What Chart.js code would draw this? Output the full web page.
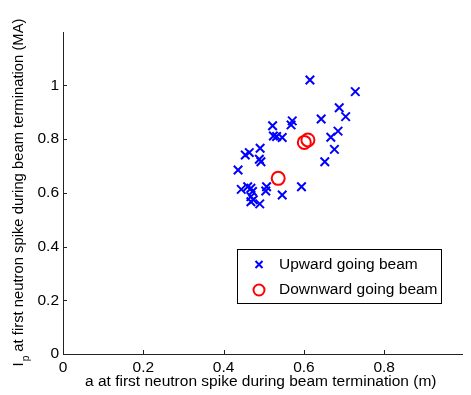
<!DOCTYPE html>
<html>
<head>
<meta charset="utf-8">
<script src="https://cdn.jsdelivr.net/npm/chart.js@4.4.1/dist/chart.umd.min.js"></script>
<style>
html,body{margin:0;padding:0;background:#fff;overflow:hidden;}
#wrap{width:471px;height:395px;}
</style>
</head>
<body>
<div id="wrap"><canvas id="c" width="471" height="395"></canvas></div>
<script>
// Data
const upX = [0.615,0.728,0.688,0.704,0.643,0.571,0.568,0.522,0.524,0.532,0.546,0.685,0.667,0.676,0.652,0.491,0.464,0.454,0.489,0.493,0.436,0.594,0.507,0.505,0.546,0.444,0.460,0.468,0.472,0.468,0.474,0.468,0.490];
const upY = [1.020,0.977,0.917,0.884,0.875,0.868,0.853,0.850,0.812,0.810,0.806,0.830,0.807,0.762,0.716,0.766,0.750,0.741,0.725,0.716,0.685,0.623,0.623,0.607,0.592,0.613,0.623,0.617,0.605,0.586,0.574,0.567,0.559];
const downX = [0.610,0.601,0.536];
const downY = [0.797,0.788,0.654];
const xTicks = [0,0.2,0.4,0.6,0.8];
const yTicks = [0,0.2,0.4,0.6,0.8,1];
const seriesNames = ['Upward going beam','Downward going beam'];
const xTitle = 'a at first neutron spike during beam termination (m)';
const yTitleMain = 'I';
const yTitleSub = 'p';
const yTitleRest = ' at first neutron spike during beam termination (MA)';

const FONT = '"Liberation Sans", Arial, sans-serif';
const FS = 15.5;
const FSY = 14.8;
const BLUE = '#0000ff', RED = '#ff0000';

const toPts = (xs, ys) => xs.map((x, i) => ({x: x, y: ys[i]}));

const decor = {
  id: 'decor',
  afterDraw(chart) {
    const ctx = chart.ctx, a = chart.chartArea;
    const xs = chart.scales.x, ys = chart.scales.y;
    ctx.save();
    // inward ticks
    ctx.strokeStyle = '#222'; ctx.lineWidth = 1;
    ctx.beginPath();
    xTicks.forEach(v => { const p = Math.round(xs.getPixelForValue(v)) + 0.5; ctx.moveTo(p, a.bottom); ctx.lineTo(p, a.bottom - 4); });
    yTicks.forEach(v => { const p = Math.round(ys.getPixelForValue(v)) + 0.5; ctx.moveTo(a.left, p); ctx.lineTo(a.left + 4, p); });
    ctx.stroke();
    // x title
    ctx.fillStyle = '#000';
    ctx.font = FS + 'px ' + FONT;
    ctx.textAlign = 'center'; ctx.textBaseline = 'middle';
    ctx.fillText(xTitle, (a.left + a.right) / 2 - 2, 382);
    // y title with subscript
    ctx.save();
    ctx.translate(19, (a.top + a.bottom) / 2);
    ctx.rotate(-Math.PI / 2);
    ctx.textAlign = 'left'; ctx.textBaseline = 'middle';
    ctx.font = FSY + 'px ' + FONT;
    const w1 = ctx.measureText(yTitleMain).width;
    const w3 = ctx.measureText(yTitleRest).width;
    ctx.font = '10px ' + FONT;
    const w2 = ctx.measureText(yTitleSub).width;
    let x0 = -(w1 + w2 + w3) / 2;
    ctx.font = FSY + 'px ' + FONT;
    ctx.fillText(yTitleMain, x0, 0);
    ctx.font = '10px ' + FONT;
    ctx.fillText(yTitleSub, x0 + w1 + 1, 7);
    ctx.font = FSY + 'px ' + FONT;
    ctx.fillText(yTitleRest, x0 + w1 + w2 + 1, 0);
    ctx.restore();
    // legend
    const lx = 237, ly = 249, lw = 204, lh = 54;
    ctx.fillStyle = '#fff';
    ctx.fillRect(lx, ly, lw, lh);
    ctx.strokeStyle = '#000'; ctx.lineWidth = 1;
    ctx.strokeRect(lx + 0.5, ly + 0.5, lw, lh);
    const mx = 259, my1 = 264.5, my2 = 290;
    ctx.strokeStyle = BLUE; ctx.lineWidth = 2;
    ctx.beginPath();
    ctx.moveTo(mx - 3.5, my1 - 3.5); ctx.lineTo(mx + 3.5, my1 + 3.5);
    ctx.moveTo(mx + 3.5, my1 - 3.5); ctx.lineTo(mx - 3.5, my1 + 3.5);
    ctx.stroke();
    ctx.strokeStyle = RED;
    ctx.beginPath(); ctx.arc(mx, my2, 5.5, 0, Math.PI * 2); ctx.stroke();
    ctx.fillStyle = '#000';
    ctx.font = FS + 'px ' + FONT;
    ctx.textAlign = 'left'; ctx.textBaseline = 'middle';
    ctx.fillText(seriesNames[0], 279, my1);
    ctx.fillText(seriesNames[1], 279, my2);
    ctx.restore();
  }
};

new Chart(document.getElementById('c'), {
  type: 'scatter',
  data: {
    datasets: [
      { label: seriesNames[0], data: toPts(upX, upY), pointStyle: 'crossRot', pointRadius: 6, pointHoverRadius: 6,
        borderColor: BLUE, backgroundColor: BLUE, pointBorderWidth: 2, borderWidth: 2 },
      { label: seriesNames[1], data: toPts(downX, downY), pointStyle: 'circle', pointRadius: 6.5, pointHoverRadius: 6.5,
        borderColor: RED, backgroundColor: 'rgba(0,0,0,0)', pointBorderWidth: 2, borderWidth: 2 }
    ]
  },
  options: {
    responsive: false,
    animation: false,
    events: [],
    layout: { padding: { top: 32, right: 0, left: 0, bottom: 0 } },
    plugins: { legend: { display: false }, tooltip: { enabled: false } },
    scales: {
      x: {
        type: 'linear', min: 0, max: 0.995,
        afterBuildTicks: s => { s.ticks = xTicks.map(v => ({value: v})); },
        afterFit: s => { s.height = 41; },
        grid: { display: true, drawOnChartArea: false, drawTicks: false, color: '#222' },
        border: { display: true, color: '#222', width: 1 },
        ticks: { padding: 4, color: '#000', font: { family: FONT, size: FS }, maxRotation: 0,
                 callback: v => String(v) }
      },
      y: {
        type: 'linear', min: 0, max: 1.199,
        afterBuildTicks: s => { s.ticks = yTicks.map(v => ({value: v})); },
        afterFit: s => { s.width = 63; },
        grid: { display: true, drawOnChartArea: false, drawTicks: false, color: '#222' },
        border: { display: true, color: '#222', width: 1 },
        ticks: { padding: 4, color: '#000', font: { family: FONT, size: FS },
                 callback: v => String(v) }
      }
    }
  },
  plugins: [decor]
});
</script>
</body>
</html>
